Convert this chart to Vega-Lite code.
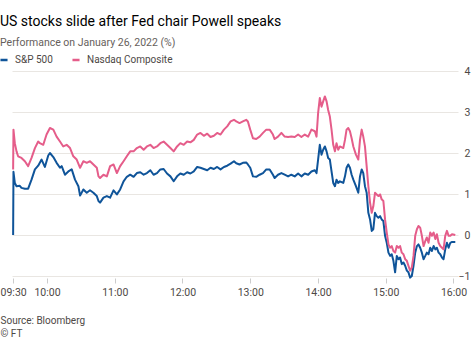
{
  "$schema": "https://vega.github.io/schema/vega-lite/v6.json",
  "width": 446,
  "height": 205,
  "autosize": "none",
  "padding": {"left": 12, "top": 71, "right": 16, "bottom": 62},
  "background": "white",
  "config": {
    "view": {"stroke": null},
    "font": "Roboto",
    "axis": {"labelFont": "Roboto", "titleFont": "Roboto"},
    "legend": {"labelFont": "Roboto"},
    "title": {"font": "Roboto", "subtitleFont": "Roboto"}
  },
  "title": {
    "text": "US stocks slide after Fed chair Powell speaks",
    "subtitle": "Performance on January 26, 2022 (%)",
    "anchor": "start",
    "frame": "group",
    "dx": -12,
    "offset": 7,
    "fontSize": 14,
    "fontWeight": "normal",
    "color": "#000000",
    "subtitleFontSize": 10.5,
    "subtitleColor": "#66605c",
    "subtitlePadding": 9
  },
  "encoding": {
    "x": {
      "field": "m",
      "type": "quantitative",
      "scale": {"domain": [-1, 394], "nice": false, "zero": false},
      "axis": {
        "values": [0, 30, 90, 150, 210, 270, 330, 390],
        "labelExpr": "timeFormat(datetime(2022, 0, 26, 9, 30 + datum.value), '%H:%M')",
        "grid": false,
        "domain": false,
        "tickColor": "#cccccc",
        "tickSize": 5,
        "offset": 2,
        "labelFontSize": 10.5,
        "labelColor": "#4d4845",
        "labelPadding": 4,
        "labelFlush": false,
        "title": ["Source: Bloomberg", "© FT"],
        "titleFontSize": 10,
        "titleFontWeight": "normal",
        "titleColor": "#4d4845",
        "titleAnchor": "start",
        "titleAlign": "left",
        "titleX": -12,
        "titleY": 37,
        "titleBaseline": "top",
        "titleLineHeight": 13.5
      }
    },
    "y": {
      "field": "v",
      "type": "quantitative",
      "scale": {"domain": [-1, 4], "nice": false},
      "axis": {
        "orient": "right",
        "values": [-1, 0, 1, 2, 3, 4],
        "ticks": false,
        "tickSize": 0,
        "domain": false,
        "gridColor": "#e9e6e2",
        "labelAlign": "right",
        "labelPadding": 12,
        "labelFontSize": 10.5,
        "labelColor": "#4d4845",
        "title": null
      }
    },
    "color": {
      "scale": {"domain": ["S&P 500", "Nasdaq Composite"], "range": ["#0f5499", "#e55d8a"]},
      "legend": {
        "orient": "none",
        "legendX": -13,
        "legendY": -16,
        "direction": "horizontal",
        "title": null,
        "symbolType": "stroke",
        "symbolStrokeWidth": 2.5,
        "symbolSize": 50,
        "labelFontSize": 10,
        "labelColor": "#4d4845",
        "columnPadding": 14,
        "labelOffset": 6
      }
    }
  },
  "layer": [
    {
      "data": {"values": [
        {"m":0,"v":0},{"m":0.3,"v":1.54},{"m":1.5,"v":1.27},{"m":3,"v":1.19},{"m":5.9,"v":1.2},{"m":7.4,"v":1.15},{"m":10.4,"v":1.13},{"m":13.3,"v":1.13},{"m":16.3,"v":1.35},{"m":19.3,"v":1.6},{"m":22.2,"v":1.69},{"m":25.2,"v":1.84},{"m":28.1,"v":1.66},{"m":31.1,"v":1.94},{"m":32.6,"v":2.0},{"m":35.6,"v":1.9},{"m":38.5,"v":1.76},{"m":41.5,"v":1.64},{"m":43,"v":1.68},{"m":45.9,"v":1.47},{"m":48.9,"v":1.55},{"m":51.9,"v":1.6},{"m":54.8,"v":1.35},{"m":57.8,"v":1.19},{"m":59.3,"v":0.96},{"m":62.2,"v":1.11},{"m":65.2,"v":1.03},{"m":68.1,"v":1.09},{"m":71.1,"v":1.03},{"m":74.1,"v":0.95},{"m":75.6,"v":0.83},{"m":77,"v":0.79},{"m":80,"v":0.91},{"m":83,"v":0.95},{"m":85.9,"v":0.91},{"m":88.9,"v":1.09},{"m":91.9,"v":0.99},{"m":94.8,"v":1.11},{"m":97.8,"v":1.31},{"m":100.7,"v":1.42},{"m":103.7,"v":1.47},{"m":106.7,"v":1.42},{"m":109.6,"v":1.51},{"m":112.6,"v":1.53},{"m":115.6,"v":1.47},{"m":118.5,"v":1.51},{"m":121.5,"v":1.58},{"m":124.4,"v":1.47},{"m":127.4,"v":1.51},{"m":130.4,"v":1.6},{"m":133.3,"v":1.61},{"m":136.3,"v":1.5},{"m":139.3,"v":1.43},{"m":142.2,"v":1.31},{"m":145.2,"v":1.43},{"m":148.1,"v":1.5},{"m":151.1,"v":1.47},{"m":154.1,"v":1.53},{"m":157,"v":1.5},{"m":160,"v":1.55},{"m":163,"v":1.66},{"m":165.9,"v":1.64},{"m":168.9,"v":1.61},{"m":171.9,"v":1.58},{"m":174.8,"v":1.64},{"m":177.8,"v":1.61},{"m":180.7,"v":1.66},{"m":183.7,"v":1.6},{"m":186.7,"v":1.66},{"m":189.6,"v":1.69},{"m":192.6,"v":1.74},{"m":195.6,"v":1.8},{"m":197.6,"v":1.75},{"m":200.5,"v":1.72},{"m":203.5,"v":1.76},{"m":206.4,"v":1.77},{"m":207.9,"v":1.72},{"m":210,"v":1.64},{"m":212.4,"v":1.43},{"m":215.3,"v":1.42},{"m":218.3,"v":1.47},{"m":221.3,"v":1.51},{"m":224.2,"v":1.6},{"m":227.2,"v":1.6},{"m":230.1,"v":1.47},{"m":231.6,"v":1.39},{"m":234.6,"v":1.47},{"m":237.6,"v":1.51},{"m":240.5,"v":1.47},{"m":243.5,"v":1.43},{"m":246.4,"v":1.47},{"m":249.4,"v":1.43},{"m":252.4,"v":1.5},{"m":255.3,"v":1.43},{"m":258.3,"v":1.5},{"m":261.3,"v":1.47},{"m":264.2,"v":1.55},{"m":267.2,"v":1.58},{"m":268.7,"v":1.51},{"m":270.1,"v":1.84},{"m":271.6,"v":2.2},{"m":273.1,"v":1.96},{"m":274.6,"v":2.08},{"m":276.1,"v":2.16},{"m":277.6,"v":2.04},{"m":279,"v":1.88},{"m":280.5,"v":1.84},{"m":282,"v":1.55},{"m":283.5,"v":1.27},{"m":285,"v":1.19},{"m":286.4,"v":1.35},{"m":287.9,"v":1.27},{"m":289.4,"v":1.31},{"m":292.4,"v":1.27},{"m":293.9,"v":1.43},{"m":295.3,"v":1.64},{"m":296.8,"v":1.72},{"m":298.3,"v":1.64},{"m":299.8,"v":1.47},{"m":301.3,"v":1.35},{"m":303.6,"v":1.19},{"m":305.7,"v":1.03},{"m":307.2,"v":1.43},{"m":308.7,"v":1.6},{"m":310.1,"v":1.51},{"m":311.6,"v":1.19},{"m":313.1,"v":1.03},{"m":314.6,"v":0.54},{"m":316.1,"v":0.38},{"m":317.6,"v":0.1},{"m":319,"v":0.14},{"m":320.5,"v":0.54},{"m":322,"v":0.46},{"m":323.5,"v":0.42},{"m":325,"v":0.46},{"m":326.4,"v":0.38},{"m":327.9,"v":0.34},{"m":329.4,"v":-0.02},{"m":330.9,"v":-0.19},{"m":332.4,"v":-0.43},{"m":333.9,"v":-0.51},{"m":335.3,"v":-0.47},{"m":336.8,"v":-0.63},{"m":338.3,"v":-0.91},{"m":339.8,"v":-0.51},{"m":341.3,"v":-0.59},{"m":342.7,"v":-0.55},{"m":344.2,"v":-0.71},{"m":345.7,"v":-0.67},{"m":347.2,"v":-0.75},{"m":348.7,"v":-0.87},{"m":350.1,"v":-0.91},{"m":351.6,"v":-1.04},{"m":353.1,"v":-1.0},{"m":354.6,"v":-0.75},{"m":356.1,"v":-0.43},{"m":357.6,"v":-0.27},{"m":359,"v":-0.23},{"m":360.5,"v":-0.31},{"m":362,"v":-0.43},{"m":363.5,"v":-0.59},{"m":365,"v":-0.51},{"m":366.4,"v":-0.43},{"m":367.9,"v":-0.47},{"m":369.4,"v":-0.31},{"m":370.9,"v":-0.39},{"m":372.4,"v":-0.27},{"m":373.9,"v":-0.35},{"m":375.3,"v":-0.31},{"m":376.8,"v":-0.43},{"m":378.3,"v":-0.47},{"m":379.8,"v":-0.55},{"m":381.2,"v":-0.59},{"m":382.7,"v":-0.35},{"m":384.2,"v":-0.19},{"m":385.7,"v":-0.31},{"m":387.2,"v":-0.19},{"m":388.7,"v":-0.17},{"m":391.6,"v":-0.17}
      ]},
      "mark": {"type": "line", "strokeWidth": 2, "strokeJoin": "round"},
      "encoding": {"color": {"datum": "S&P 500"}}
    },
    {
      "data": {"values": [
        {"m":0,"v":1.6},{"m":0.3,"v":2.57},{"m":1.5,"v":2.24},{"m":3,"v":2.04},{"m":4.4,"v":1.92},{"m":7.4,"v":1.88},{"m":10.4,"v":1.8},{"m":13.3,"v":1.68},{"m":16.3,"v":1.88},{"m":19.3,"v":2.12},{"m":22.2,"v":2.28},{"m":23.7,"v":2.24},{"m":26.7,"v":2.2},{"m":29.6,"v":2.45},{"m":32.6,"v":2.61},{"m":35.6,"v":2.57},{"m":38.5,"v":2.4},{"m":41.5,"v":2.28},{"m":44.4,"v":2.16},{"m":47.4,"v":2.2},{"m":50.4,"v":2.12},{"m":53.3,"v":1.92},{"m":56.3,"v":1.84},{"m":59.3,"v":1.64},{"m":62.2,"v":1.8},{"m":65.2,"v":1.76},{"m":68.1,"v":1.8},{"m":71.1,"v":1.72},{"m":74.1,"v":1.64},{"m":75.6,"v":1.43},{"m":77,"v":1.39},{"m":80,"v":1.47},{"m":83,"v":1.43},{"m":85.9,"v":1.68},{"m":88.9,"v":1.72},{"m":91.9,"v":1.51},{"m":94.8,"v":1.68},{"m":97.8,"v":1.8},{"m":100.7,"v":1.92},{"m":103.7,"v":2.04},{"m":106.7,"v":2.04},{"m":109.6,"v":2.12},{"m":112.6,"v":2.16},{"m":115.6,"v":2.08},{"m":118.5,"v":2.16},{"m":121.5,"v":2.2},{"m":124.4,"v":2.12},{"m":127.4,"v":2.16},{"m":130.4,"v":2.24},{"m":133.3,"v":2.28},{"m":136.3,"v":2.2},{"m":139.3,"v":2.12},{"m":142.2,"v":2.04},{"m":145.2,"v":2.16},{"m":148.1,"v":2.24},{"m":151.1,"v":2.2},{"m":154.1,"v":2.28},{"m":157,"v":2.26},{"m":160,"v":2.32},{"m":163,"v":2.45},{"m":165.9,"v":2.49},{"m":168.9,"v":2.42},{"m":171.9,"v":2.47},{"m":174.8,"v":2.39},{"m":177.8,"v":2.42},{"m":180.7,"v":2.49},{"m":183.7,"v":2.45},{"m":186.7,"v":2.57},{"m":189.6,"v":2.65},{"m":192.6,"v":2.77},{"m":195.6,"v":2.81},{"m":197.6,"v":2.77},{"m":200.5,"v":2.73},{"m":203.5,"v":2.77},{"m":206.4,"v":2.81},{"m":207.9,"v":2.77},{"m":210,"v":2.57},{"m":212.4,"v":2.36},{"m":215.3,"v":2.34},{"m":218.3,"v":2.4},{"m":221.3,"v":2.49},{"m":224.2,"v":2.57},{"m":227.2,"v":2.57},{"m":230.1,"v":2.45},{"m":231.6,"v":2.34},{"m":234.6,"v":2.4},{"m":237.6,"v":2.49},{"m":240.5,"v":2.4},{"m":243.5,"v":2.39},{"m":246.4,"v":2.4},{"m":249.4,"v":2.39},{"m":252.4,"v":2.45},{"m":255.3,"v":2.39},{"m":258.3,"v":2.45},{"m":261.3,"v":2.4},{"m":264.2,"v":2.57},{"m":267.2,"v":2.53},{"m":268.7,"v":2.4},{"m":270.1,"v":2.97},{"m":271.6,"v":3.34},{"m":273.1,"v":3.13},{"m":274.6,"v":3.26},{"m":276.1,"v":3.38},{"m":277.6,"v":3.26},{"m":279,"v":3.05},{"m":280.5,"v":2.89},{"m":282,"v":2.57},{"m":283.5,"v":2.2},{"m":285,"v":2.04},{"m":286.4,"v":2.24},{"m":287.9,"v":2.08},{"m":289.4,"v":2.16},{"m":292.4,"v":2.12},{"m":293.9,"v":2.32},{"m":295.3,"v":2.57},{"m":296.8,"v":2.61},{"m":298.3,"v":2.53},{"m":299.8,"v":2.36},{"m":301.3,"v":2.16},{"m":303.6,"v":1.96},{"m":305.7,"v":1.84},{"m":307.2,"v":2.32},{"m":308.7,"v":2.57},{"m":310.1,"v":2.4},{"m":311.6,"v":2.16},{"m":313.1,"v":1.68},{"m":314.6,"v":1.19},{"m":316.1,"v":0.79},{"m":317.6,"v":0.54},{"m":319,"v":0.7},{"m":320.5,"v":1.03},{"m":322,"v":0.99},{"m":323.5,"v":0.95},{"m":325,"v":0.99},{"m":326.4,"v":0.87},{"m":327.9,"v":0.83},{"m":329.4,"v":0.38},{"m":330.9,"v":0.06},{"m":332.4,"v":-0.23},{"m":333.9,"v":-0.31},{"m":335.3,"v":-0.27},{"m":336.8,"v":-0.39},{"m":338.3,"v":-0.43},{"m":339.8,"v":-0.27},{"m":341.3,"v":-0.31},{"m":342.7,"v":-0.27},{"m":344.2,"v":-0.43},{"m":345.7,"v":-0.47},{"m":347.2,"v":-0.59},{"m":348.7,"v":-0.63},{"m":350.1,"v":-0.75},{"m":351.6,"v":-0.87},{"m":353.1,"v":-0.79},{"m":354.6,"v":-0.51},{"m":356.1,"v":-0.02},{"m":357.6,"v":0.14},{"m":359,"v":0.22},{"m":360.5,"v":0.18},{"m":362,"v":-0.02},{"m":363.5,"v":-0.27},{"m":365,"v":-0.15},{"m":366.4,"v":-0.06},{"m":367.9,"v":-0.19},{"m":369.4,"v":0.06},{"m":370.9,"v":-0.02},{"m":372.4,"v":0.06},{"m":373.9,"v":-0.1},{"m":375.3,"v":0.02},{"m":376.8,"v":-0.19},{"m":378.3,"v":-0.27},{"m":379.8,"v":-0.31},{"m":381.2,"v":-0.35},{"m":382.7,"v":-0.02},{"m":384.2,"v":0.1},{"m":385.7,"v":-0.02},{"m":387.2,"v":-0.02},{"m":388.7,"v":0.02},{"m":391.6,"v":0.0}
      ]},
      "mark": {"type": "line", "strokeWidth": 2, "strokeJoin": "round"},
      "encoding": {"color": {"datum": "Nasdaq Composite"}}
    }
  ]
}
